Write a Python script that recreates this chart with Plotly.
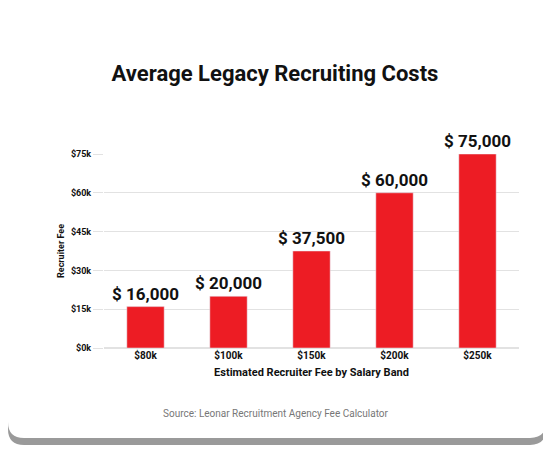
import plotly.graph_objects as go

bands = ["$80k", "$100k", "$150k", "$200k", "$250k"]
fees = [16000, 20000, 37500, 60000, 75000]
labels = ["$ 16,000", "$ 20,000", "$ 37,500", "$ 60,000", "$ 75,000"]
tick_vals = [0, 15000, 30000, 45000, 60000, 75000]
tick_text = ["$0k", "$15k", "$30k", "$45k", "$60k", "$75k"]

W, H = 551, 458
L, R, T, B = 96, 511, 146, 340


def px(x, y):
    return (x - L) / (R - L), (B - y) / (B - T)


def rounded(x0, y0, x1, y1, r):
    pts = []
    a = px(x0 + r, y0); pts.append("M%f,%f" % a)
    b = px(x1 - r, y0); pts.append("L%f,%f" % b)
    c = px(x1, y0 + r); pts.append("Q%f,%f %f,%f" % (*px(x1, y0), *c))
    d = px(x1, y1 - r); pts.append("L%f,%f" % d)
    e = px(x1 - r, y1); pts.append("Q%f,%f %f,%f" % (*px(x1, y1), *e))
    f = px(x0 + r, y1); pts.append("L%f,%f" % f)
    g = px(x0, y1 - r); pts.append("Q%f,%f %f,%f" % (*px(x0, y1), *g))
    h = px(x0, y0 + r); pts.append("L%f,%f" % h)
    pts.append("Q%f,%f %f,%f Z" % (*px(x0, y0), *a))
    return " ".join(pts)


fig = go.Figure(go.Bar(
    x=bands, y=fees, text=labels, textposition="outside", cliponaxis=False,
    constraintext="none",
    marker_color="#ED1C24", width=0.45,
    textfont=dict(family="Roboto", size=17, color="#111", weight="bold"),
))

fig.add_shape(type="path", xref="paper", yref="paper", layer="below",
              path=rounded(0, 2, 538, 437, 16), fillcolor="#9a9a9a", line_width=0)
fig.add_shape(type="path", xref="paper", yref="paper", layer="below",
              path=rounded(0, -4, 538, 430, 16), fillcolor="white", line_width=0)

fig.update_layout(
    width=W, height=H, margin=dict(l=L, r=W - R, t=T, b=H - B),
    paper_bgcolor="white", plot_bgcolor="rgba(0,0,0,0)", showlegend=False,
    font=dict(family="Roboto", color="#111"),
    title=dict(text="<b>Average Legacy Recruiting Costs</b>", x=px(267, 0)[0], xref="paper", xanchor="center",
               y=1 - 65 / H, yanchor="middle", font=dict(size=22, family="Roboto")),
    annotations=[
        dict(text="Source: Leonar Recruitment Agency Fee Calculator", xref="paper", yref="paper",
             x=px(268, 0)[0], y=px(0, 413)[1], showarrow=False,
             font=dict(size=10, color="#777", family="Roboto")),
        dict(text="<b>Recruiter Fee</b>", xref="paper", yref="paper", textangle=-90,
             x=px(46, 0)[0], y=px(0, 243)[1], showarrow=False, font=dict(size=9)),
    ],
)
fig.update_xaxes(showgrid=False, showline=False, ticks="", tickfont=dict(size=10, weight="bold"),
                 title=dict(text="<b>Estimated Recruiter Fee by Salary Band</b>", font=dict(size=11), standoff=8))
fig.update_yaxes(range=[0, 75000], tickvals=tick_vals, ticktext=tick_text, gridcolor="#e2e2e2",
                 zeroline=True, zerolinecolor="#e2e2e2", tickfont=dict(size=9, weight="bold"),
                 ticks="outside", ticklen=10, tickcolor="#e2e2e2")

fig.write_html("out.html")
